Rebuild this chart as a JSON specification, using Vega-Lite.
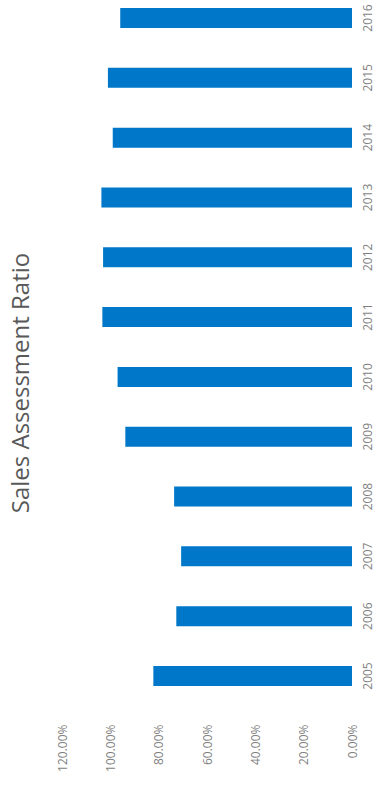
{
  "$schema": "https://vega.github.io/schema/vega-lite/v6.json",
  "width": 290,
  "height": 694,
  "autosize": {"type": "none"},
  "padding": {"left": 62, "top": 0, "right": 28, "bottom": 97},
  "background": "white",
  "title": {
    "text": "Sales Assessment Ratio",
    "orient": "left",
    "anchor": "middle",
    "offset": 22,
    "dx": -36,
    "font": "Open Sans",
    "fontSize": 24,
    "fontWeight": "normal",
    "color": "#595959"
  },
  "data": {
    "values": [
      {"year": "2005", "ratio": 0.822},
      {"year": "2006", "ratio": 0.727},
      {"year": "2007", "ratio": 0.707},
      {"year": "2008", "ratio": 0.736},
      {"year": "2009", "ratio": 0.938},
      {"year": "2010", "ratio": 0.97},
      {"year": "2011", "ratio": 1.033},
      {"year": "2012", "ratio": 1.03},
      {"year": "2013", "ratio": 1.037},
      {"year": "2014", "ratio": 0.99},
      {"year": "2015", "ratio": 1.01},
      {"year": "2016", "ratio": 0.959}
    ]
  },
  "mark": {"type": "bar", "color": "#0077C8"},
  "encoding": {
    "y": {
      "field": "year",
      "type": "ordinal",
      "sort": "descending",
      "scale": {"paddingInner": 0.666, "paddingOuter": 0.134},
      "axis": {
        "orient": "right",
        "title": null,
        "domain": false,
        "ticks": false,
        "tickSize": 0,
        "labelAngle": -90,
        "labelAlign": "center",
        "labelBaseline": "top",
        "labelPadding": 10,
        "labelFont": "Open Sans",
        "labelFontSize": 12,
        "labelColor": "#7f7f7f"
      }
    },
    "x": {
      "field": "ratio",
      "type": "quantitative",
      "scale": {"domain": [0, 1.2], "reverse": true, "nice": false},
      "axis": {
        "orient": "bottom",
        "title": null,
        "format": ".2%",
        "values": [0, 0.2, 0.4, 0.6, 0.8, 1.0, 1.2],
        "grid": false,
        "domain": false,
        "ticks": false,
        "tickSize": 0,
        "labelAngle": -90,
        "labelAlign": "right",
        "labelBaseline": "middle",
        "labelPadding": 30,
        "labelFont": "Open Sans",
        "labelFontSize": 12,
        "labelColor": "#7f7f7f",
        "labelFlush": false,
        "labelOverlap": false
      }
    }
  },
  "config": {"view": {"stroke": null}}
}
